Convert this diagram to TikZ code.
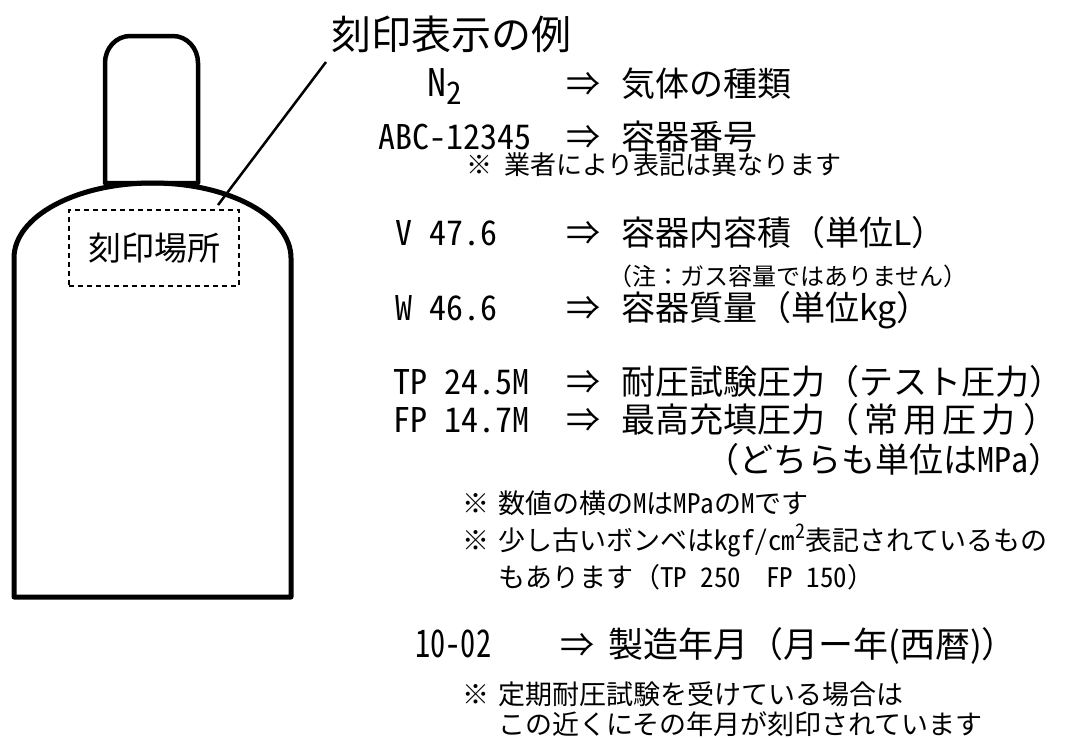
\documentclass[tikz,border=0pt]{standalone}
\usepackage{fontspec}
\usepackage{graphicx}
\setmainfont{Noto Sans CJK JP}
\newfontfamily\codefont[RawFeature=+hwid]{Noto Sans CJK JP}
\newcommand{\fs}[1]{\fontsize{#1}{#1}\selectfont}
\tikzset{
  txt/.style={inner sep=0pt, anchor=base west},
  code/.style={txt, font=\codefont\fs{34}},
  jp/.style={txt, font=\fs{34}},
  arr/.style={txt, font=\fs{34}},
  note/.style={txt, font=\fs{27}},
  outline/.style={line width=5pt, line join=round},
}
\begin{document}
\begin{tikzpicture}[x=1pt,y=-1pt]
\useasboundingbox (0,0) rectangle (1065,737);

% cylinder body with domed shoulder
\draw[outline] (14,258) arc[start angle=180,end angle=360,x radius=138.5,y radius=75]
  -- (291,597) -- (14,597) -- cycle;
% valve cap
\draw[line width=4.5pt, line join=round] (105,183) -- (105,63)
  arc[start angle=180,end angle=270,x radius=25,y radius=27] -- (173,36)
  arc[start angle=270,end angle=360,x radius=25,y radius=27] -- (198,183) -- cycle;

% stamped area
\node[draw, line width=1.5pt, dash pattern=on 5pt off 4pt,
      minimum width=170pt, minimum height=76pt, inner sep=0pt, font=\fs{33}]
  (place) at (154,248) {刻印場所};

% title and leader line
\node[txt, font=\fs{40}] (title) at (331,49) {刻印表示の例};
\coordinate (leadtop) at (326,62);
\coordinate (leadend) at (218,205);
\draw[line width=2.5pt] (leadtop) -- (leadend);

% rows of stamped marks
\node[txt, font=\codefont\fs{38}] (c1) at (427,96) {N\raisebox{-0.22em}{\fs{31}2}};
\node[arr] (a1) at (566,96) {⇒};
\node[jp]  (j1) at (621,96) {気体の種類};

\node[code] (c2) at (378,149) {ABC-12345};
\node[arr]  (a2) at (566,149) {⇒};
\node[jp]   (j2) at (621,149) {容器番号};
\node[txt, font=\fs{26}] (n1) at (466,174) {※\kern12pt業者により表記は異なります};

\node[code] (c3) at (395,245) {V 47.6};
\node[arr]  (a3) at (566,245) {⇒};
\node[jp]   (j3) at (621,245) {容器内容積（単位L）};
\node[txt, font=\fs{24}] (n2) at (608,285) {（注：ガス容量ではありません）};

\node[code] (c4) at (395,320) {W 46.6};
\node[arr]  (a4) at (566,320) {⇒};
\node[jp]   (j4) at (621,320) {容器質量（単位kg）};

\node[code] (c5) at (393,394) {TP 24.5M};
\node[arr]  (a5) at (566,394) {⇒};
\node[jp]   (j5) at (621,394) {耐圧試験圧力（テスト圧力）};

\node[code] (c6) at (393,432) {FP 14.7M};
\node[arr]  (a6) at (566,432) {⇒};
\node[jp]   (j6) at (621,432) {最高充填圧力（\kern5pt常\kern5pt用\kern5pt圧\kern5pt力\kern8pt）};
\node[jp]   (j7) at (705,472) {（どちらも単位は{\codefont MPa}）};

\node[note] (n3) at (462,513) {※\kern9pt数値の横の{\codefont M}は{\codefont MPa}の{\codefont M}です};
\node[note] (n4) at (462,550) {※\kern9pt少し古いボンベは{\codefont kgf/cm\raisebox{0.42em}{\fs{20}2}}表記されているもの};
\node[note] (n5) at (498,587) {もあります（{\codefont TP 250\kern25pt FP 150}）};

\node[txt, font=\codefont\fs{38}] (c8) at (415,657) {\scalebox{0.8}[1]{10-02}};
\node[arr] (a8) at (560,657) {⇒};
\node[txt, font=\fs{35}] (j8) at (608,657) {製造年月（月ー年(西暦)）};

\node[note] (n6) at (462,704) {※\kern9pt定期耐圧試験を受けている場合は};
\node[note] (n7) at (498,734) {この近くにその年月が刻印されています};
\end{tikzpicture}
\end{document}
